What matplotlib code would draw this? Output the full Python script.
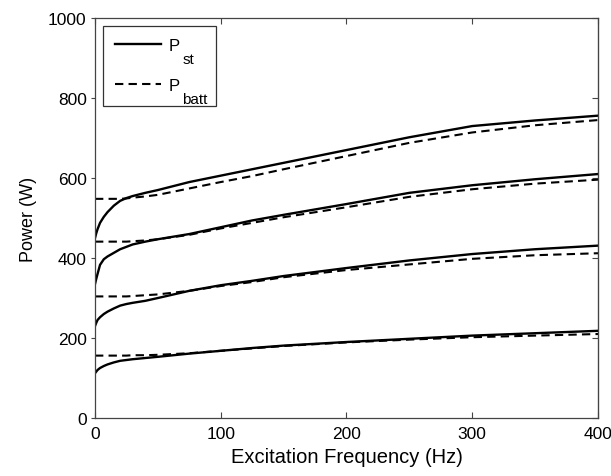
import numpy as np
import matplotlib
matplotlib.use("Agg")
from matplotlib import pyplot as plt

plt.rcParams["font.family"] = ["Liberation Sans", "DejaVu Sans"]

# Excitation frequency (Hz)
freq = [0, 1, 2, 4, 7, 10, 15, 20, 25, 30, 40, 50, 75, 100, 125, 150, 200, 250, 300, 350, 400]

# Stator power, four load cases (W)
p_st_1 = [112, 116, 120, 125, 130, 134, 139, 143, 145, 147, 150, 153, 161, 168, 175, 181, 190, 198, 206, 212, 218]
p_st_2 = [230, 238, 245, 252, 260, 266, 274, 281, 285, 288, 293, 300, 318, 332, 343, 355, 375, 394, 410, 422, 431]
p_st_3 = [335, 348, 360, 383, 397, 404, 413, 422, 428, 434, 441, 447, 460, 477, 494, 508, 535, 563, 582, 597, 610]
p_st_4 = [450, 462, 472, 488, 503, 515, 531, 543, 550, 555, 563, 570, 590, 606, 622, 638, 670, 702, 730, 744, 756]

# Battery power, four load cases (W)
p_batt_1 = [156, 156, 156, 156, 156, 156, 156, 156, 156, 157, 157, 158, 162, 168, 174, 180, 189, 196, 202, 206, 210]
p_batt_2 = [304, 304, 304, 304, 304, 304, 304, 304, 304, 305, 307, 309, 318, 330, 340, 352, 370, 384, 398, 407, 412]
p_batt_3 = [441, 441, 441, 441, 441, 441, 441, 441, 441, 442, 444, 447, 458, 474, 488, 502, 527, 553, 572, 586, 596]
p_batt_4 = [548, 548, 548, 548, 548, 548, 548, 548, 549, 551, 554, 558, 574, 590, 605, 622, 655, 688, 714, 732, 745]

x_ticks = [0, 100, 200, 300, 400]
y_ticks = [0, 200, 400, 600, 800, 1000]

fig = plt.figure(figsize=(6.11, 4.77), dpi=100)
ax = fig.add_axes([0.1555, 0.1216, 0.8232, 0.8384])

for i, (st, batt) in enumerate(zip([p_st_1, p_st_2, p_st_3, p_st_4],
                                   [p_batt_1, p_batt_2, p_batt_3, p_batt_4])):
    ax.plot(freq, st, color="black", lw=1.7, ls="-", label="P     " if i == 0 else None)
    ax.plot(freq, batt, color="black", lw=1.5, ls=(0, (4, 2.5)),
            label="P     " if i == 0 else None)

ax.set_xlim(0, 400)
ax.set_ylim(0, 1000)
ax.set_xticks(x_ticks)
ax.set_yticks(y_ticks)
ax.tick_params(axis="x", direction="in", top=True, labelsize=12.5, length=4,
               width=0.8, colors="#444444", labelcolor="black", pad=6)
ax.tick_params(axis="y", direction="out", right=False, labelsize=12.5, length=3,
               width=0.8, colors="#444444", labelcolor="black", pad=3)
# right-hand ticks point inward
sec = ax.secondary_yaxis("right")
sec.set_yticks(y_ticks)
sec.tick_params(direction="in", length=4, width=0.8, colors="#444444", labelright=False)
sec.spines["right"].set_color("#444444")

for s in ax.spines.values():
    s.set_color("#444444")
    s.set_linewidth(0.9)

ax.set_xlabel("Excitation Frequency (Hz)", fontsize=14.5, labelpad=4)
ax.set_ylabel("Power (W)", fontsize=13, labelpad=8)

leg = ax.legend(loc="upper left", fontsize=12, handlelength=2.75, handletextpad=0.5,
                borderpad=0.75, labelspacing=1.5, fancybox=False, framealpha=1,
                edgecolor="#333333", borderaxespad=0.45)
leg.get_frame().set_linewidth(0.9)

# large, low subscripts on the legend labels
for txt, sub in zip(leg.get_texts(), ["st", "batt"]):
    ax.annotate(sub, xy=(0, 0), xycoords=txt, xytext=(9.5, -7),
                textcoords="offset points", fontsize=11, va="baseline", ha="left",
                zorder=10, annotation_clip=False)

fig.savefig("out.png", dpi=100)
